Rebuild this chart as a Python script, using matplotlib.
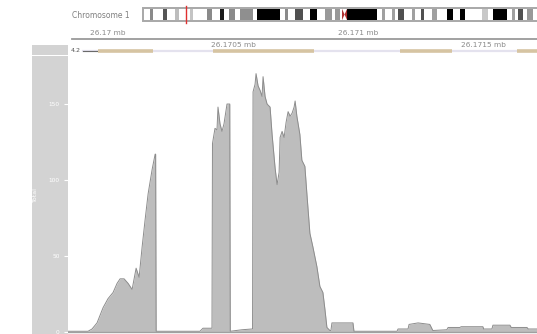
import matplotlib
matplotlib.use("Agg")
import matplotlib.pyplot as plt
from matplotlib.patches import Rectangle, Polygon

# ---- data ----
chrom_name = "Chromosome 1"
chrom_len_mb = 249.25
region_mb = 26.17
centromere_mb = (122.1, 125.2)

# cytoband stains (start Mb, end Mb, shade)
band_start = [4.3, 12.3, 19.6, 28.8, 39.3, 47.2, 52.8, 59.5, 69.9, 87.1, 93.3, 102.5,
              111.7, 117.8, 125.2, 146.6, 152.8, 156.4, 165.0, 170.6, 177.3, 186.5,
              194.5, 208.0, 214.7, 226.4, 230.1, 235.6]
band_end = [6.1, 14.7, 22.1, 30.7, 42.3, 49.7, 56.4, 67.5, 84.0, 89.0, 98.2, 106.7,
            116.0, 120.9, 143.6, 148.5, 154.6, 160.1, 166.9, 172.4, 180.4, 190.2,
            197.5, 211.7, 223.3, 228.2, 233.1, 239.3]
band_shade = ["#8a8a8a", "#555555", "#bdbdbd", "#c4c4c4", "#8a8a8a", "#1a1a1a", "#8a8a8a",
              "#8f8f8f", "#000000", "#8a8a8a", "#505050", "#000000", "#999999", "#999999",
              "#000000", "#a0a0a0", "#a0a0a0", "#505050", "#a0a0a0", "#505050", "#a0a0a0",
              "#000000", "#000000", "#c8c8c8", "#000000", "#a0a0a0", "#505050", "#999999"]

start_bp = 26170000
view_lo, view_hi = 26169840, 26171713
axis_ticks = [26170000, 26170500, 26171000, 26171500]
axis_labels = ["26.17 mb", "26.1705 mb", "26.171 mb", "26.1715 mb"]

# gene model segments along the annotation track (offset bp)
exon_lo = [-40, 419, 1166, 1633]
exon_hi = [180, 822, 1373, 1800]

# coverage profile (offset from start_bp, total reads)
cov_pos = [-160, -80, -64, -44, -20, 0, 20, 36, 48, 64, 80, 96, 112, 124, 136, 148, 160,
           176, 188, 190, 192, 367, 379, 415, 417, 427, 435, 439, 447, 455, 463, 475, 483,
           486, 488, 535, 575, 577, 579, 587, 591, 599, 607, 615, 619, 627, 635, 647, 655,
           667, 675, 683, 687, 695, 703, 711, 719, 727, 735, 743, 747, 754, 766, 774, 786,
           794, 806, 818, 834, 846, 858, 866, 874, 886, 890, 894, 978, 982, 1154, 1158,
           1198, 1202, 1238, 1285, 1297, 1353, 1358, 1405, 1410, 1497, 1500, 1533, 1537,
           1605, 1610, 1673, 1678, 1713]
cov_val = [0.5, 0.5, 2, 6, 16, 22, 26, 32, 35, 35, 32, 28, 42, 36, 56, 74, 91,
           107, 117, 117, 0.5, 0.5, 2.5, 2.5, 124, 134, 133, 148, 137, 132, 137, 150, 150,
           150, 0.5, 1.5, 2, 2, 158, 163, 170, 162, 159, 155, 168, 155, 150, 148, 130,
           108, 97, 105, 128, 132, 128, 138, 145, 142, 144, 148, 152, 142, 130, 113, 109,
           91, 65, 56, 43, 30, 26, 15, 3, 1, 1, 6, 6, 0.5, 0.5, 2,
           2, 5, 6, 5, 1, 1.5, 3, 3, 3.5, 3.5, 2, 2, 4.5,
           4.5, 3, 3, 2, 2]
y_ticks = [0, 50, 100, 150]
track_title = "Total"

W, H = 537, 334
fig = plt.figure(figsize=(W / 100, H / 100), dpi=100)


def px_axes(x0, y0, x1, y1, **kw):
    return fig.add_axes([x0 / W, 1 - y1 / H, (x1 - x0) / W, (y1 - y0) / H], **kw)


def panel(x0, y0, x1, y1):
    # grey title panel to the left of a track
    p = px_axes(x0, y0, x1, y1, facecolor="#d3d3d3")
    p.set_xticks([])
    p.set_yticks([])
    for sp in p.spines.values():
        sp.set_visible(False)
    return p


# chromosome label
fig.text(72 / W, 1 - 15.5 / H, chrom_name, fontsize=5.5, color="#7f7f7f", va="center")

# ideogram
ax_id = px_axes(140, 7, 537, 22)
ax_id.set_xlim((140 - 143) / 1.63, (537 - 143) / 1.63)
ax_id.set_ylim(-0.1, 1.1)
ax_id.axis("off")
ax_id.add_patch(Rectangle((0, 0), chrom_len_mb, 1, facecolor="white",
                          edgecolor="#a8a8a8", linewidth=1.4))
for s, e, c in zip(band_start, band_end, band_shade):
    ax_id.add_patch(Rectangle((s, 0.05), e - s, 0.9, facecolor=c, edgecolor="none"))
c0, c1 = centromere_mb
cm = (c0 + c1) / 2
ax_id.add_patch(Polygon([(c0, 0.05), (c0, 0.95), (cm, 0.5)], facecolor="#b03030", edgecolor="none"))
ax_id.add_patch(Polygon([(c1, 0.05), (c1, 0.95), (cm, 0.5)], facecolor="#b03030", edgecolor="none"))
ax_id.axvline(region_mb, ymin=-0.05, ymax=1.05, color="#e03030", linewidth=1, clip_on=False)

# genome axis
ax_gx = px_axes(68, 28, 537, 45)
ax_gx.set_xlim(view_lo, view_hi)
ax_gx.set_ylim(0, 1)
ax_gx.axis("off")
ax_gx.plot([view_lo + 16, view_hi], [0.37, 0.37], color="#9a9a9a", linewidth=1.3)
for i, (t, lab) in enumerate(zip(axis_ticks, axis_labels)):
    y = 0.72 if i % 2 == 0 else 0.02
    ax_gx.text(t, y, lab, fontsize=5.3, color="#8a8a8a", ha="center", va="center")

# annotation track
panel(32, 45, 68, 54.5)
ax_an = px_axes(68, 45, 537, 55)
ax_an.set_xlim(view_lo, view_hi)
ax_an.set_ylim(0, 1)
ax_an.axis("off")
ax_an.plot([start_bp - 100, view_hi], [0.45, 0.45], color="#e4e2ee", linewidth=1.6)
ax_an.plot([start_bp - 100, start_bp - 40], [0.45, 0.45], color="#6a6a6a", linewidth=0.8)
for lo, hi in zip(exon_lo, exon_hi):
    ax_an.plot([start_bp + lo, start_bp + hi], [0.45, 0.45], color="#d6c4a2", linewidth=2.6,
               solid_capstyle="butt")
ax_an.text(view_lo + 12, 0.5, "4.2", fontsize=4.5, color="#555555", va="center")

# data track title panel
pt = panel(32, 56, 68, 334)
pt.text(0.11, 0.5, track_title, rotation=90, fontsize=4.5, color="white",
        ha="center", va="center", transform=pt.transAxes)

# coverage track
ax = px_axes(68, 56, 537, 334)
x = [start_bp + p for p in cov_pos]
ax.fill_between(x, 0, cov_val, color="#bdbdbd", linewidth=0)
ax.plot(x, cov_val, color="#8c8c8c", linewidth=0.7)
ax.axhline(0, color="#a0a0a0", linewidth=1)
ax.set_xlim(view_lo, view_hi)
ax.set_ylim(-1.3, 181.6)
for sp in ax.spines.values():
    sp.set_visible(False)
ax.set_xticks([])
ax.set_yticks(y_ticks)
ax.set_yticklabels([str(v) for v in y_ticks])
ax.tick_params(axis="y", colors="white", labelsize=4.2, length=3, width=0.8, pad=3)

fig.savefig("out.png", dpi=100)
